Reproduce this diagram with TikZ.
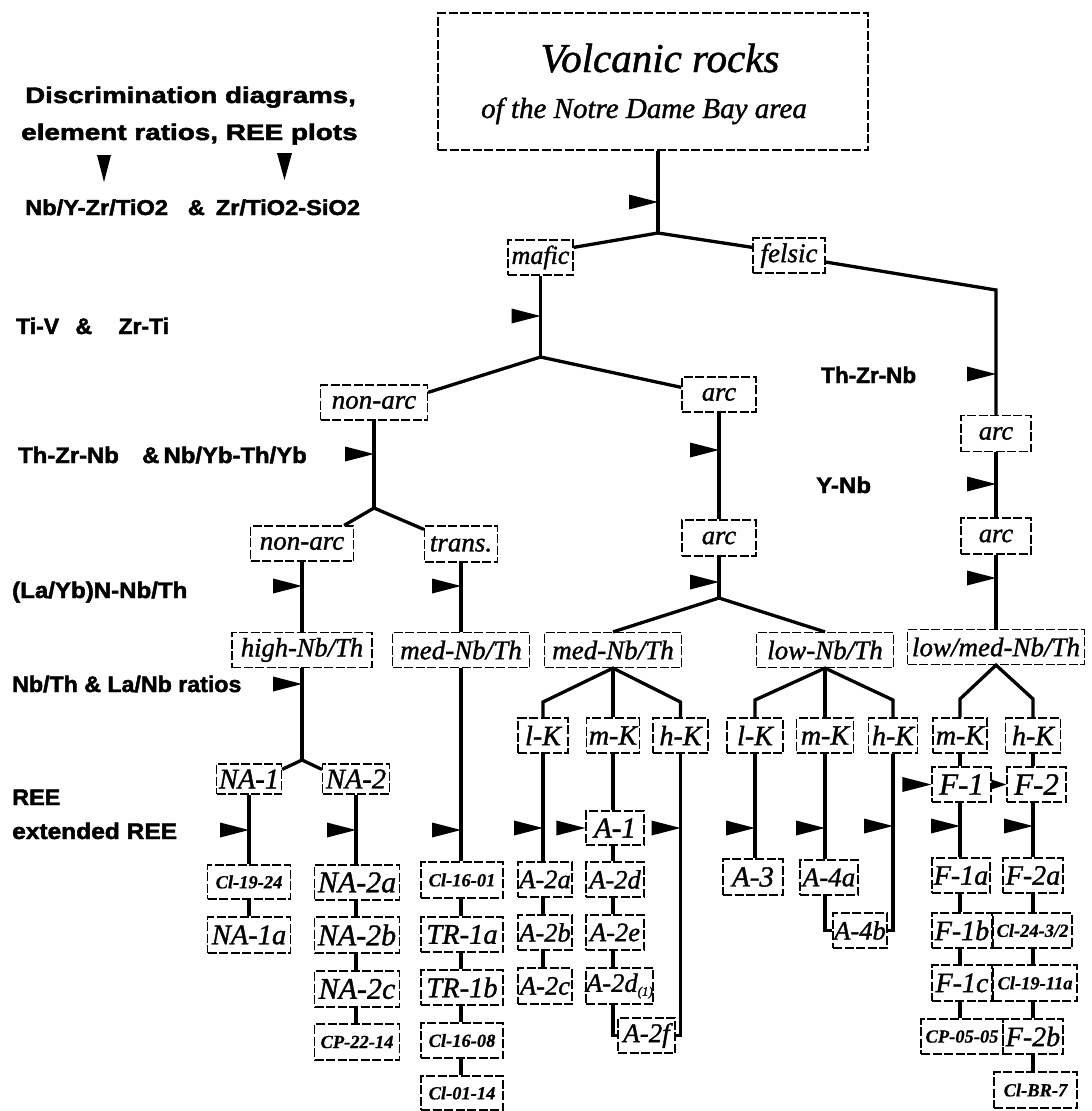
\documentclass[tikz,border=0pt]{standalone}
\usepackage{fontspec}
\setmainfont{Liberation Serif}
\newfontfamily\lsans[FakeBold=2]{Liberation Sans Bold}
\newfontfamily\itf[FakeBold=1.2]{Liberation Serif Italic}
\newfontfamily\itbf[FakeBold=0.6]{Liberation Serif Bold Italic}
\usepackage{graphicx}
\newcommand{\fs}[1]{\fontsize{#1}{#1}\selectfont}
\newcommand{\sx}[2]{\scalebox{#1}[1]{#2}}
\newcommand{\vcon}[3]{\draw[conn] (#1 |- #2.south) -- (#1 |- #3.north);}
\begin{document}
\begin{tikzpicture}[x=1pt,y=-1pt,
  conn/.style={line width=3.3pt, line join=miter},
  box/.style={draw, line width=1.2pt, dash pattern=on 9pt off 2.5pt, inner sep=0pt, font=\itf\fs{27}},
  bx/.style 2 args={box, minimum width=#1pt, minimum height=#2pt},
  smallcode/.style={font=\itbf\fs{18.5}},
  sz/.style={font=\itf\fs{#1}},
  lbl/.style={anchor=base west, inner sep=0pt, font=\lsans\fs{22.5}},
  pennant/.pic={\fill (-29,-7.5) -- (-29,7.5) -- (0,0) -- cycle;},
  smallpennant/.pic={\fill (-15,-5) -- (-15,5) -- (0,0) -- cycle;},
]
\fill[white] (0,0) rectangle (1092,1111);
\useasboundingbox (0,0) rectangle (1092,1111);

% column coordinates
\coordinate (cNa1) at (249,0);
\coordinate (cNa2) at (356,0);
\coordinate (cTr) at (461,0);
\coordinate (cArc) at (719,0);
\coordinate (cF) at (996,0);
\coordinate (cL1) at (543,0);
\coordinate (cM1) at (613,0);
\coordinate (cH1) at (680.5,0);
\coordinate (cL2) at (755,0);
\coordinate (cM2) at (825,0);
\coordinate (cH2) at (893,0);
\coordinate (cF1) at (960,0);
\coordinate (cF2) at (1033,0);

% title
\node[bx={430}{137}] (title) at (653,81.5) {};
\node[anchor=base, inner sep=0pt, font=\itf\fs{41}] (t1) at (660,72) {Volcanic rocks};
\node[anchor=base, inner sep=0pt, font=\itf\fs{29}] (t2) at (644,118) {of the Notre Dame Bay area};

% left labels
\node[lbl] (d1) at (25,103) {\sx{1.23}{Discrimination diagrams,}};
\node[lbl] (d2) at (21,140) {\sx{1.24}{element ratios, REE plots}};
\fill (97,155) -- (111,155) -- (104,182) -- cycle;
\fill (277,153) -- (292,153) -- (284.5,180) -- cycle;
\node[lbl, font=\lsans\fs{21.5}] (d3) at (25,215) {\sx{1.1}{Nb/Y-Zr/TiO2\hspace{18pt}\&\hspace{10pt}Zr/TiO2-SiO2}};
\node[lbl] (d4) at (16,334) {\sx{1.02}{Ti-V\hspace{16pt}\&\hspace{26pt}Zr-Ti}};
\node[lbl] (d5) at (18,463) {\sx{1.06}{Th-Zr-Nb\hspace{22pt}\&\hspace{4pt}Nb/Yb-Th/Yb}};
\node[lbl] (d6) at (12,598) {\sx{1.07}{(La/Yb)N-Nb/Th}};
\node[lbl] (d7) at (12,692) {\sx{1.03}{Nb/Th \& La/Nb ratios}};
\node[lbl] (d8) at (12,805) {\sx{1.04}{REE}};
\node[lbl] (d9) at (12,839) {\sx{1.09}{extended REE}};
\node[lbl] (d10) at (821,383) {\sx{1.0}{Th-Zr-Nb}};
\node[lbl] (d11) at (816,493) {\sx{1.07}{Y-Nb}};

% tree nodes
\node[bx={65}{35}, sz=26] (mafic) at (540.5,257.5) {mafic};
\node[bx={72}{35}] (felsic) at (789,255.5) {felsic};
\node[bx={107}{35}] (nonarc1) at (374,402.5) {non-arc};
\node[bx={74}{35}, sz=26.5] (arc1) at (719,394.5) {arc};
\node[bx={70}{36}, sz=26.5] (arcF1) at (996,433.5) {arc};
\node[bx={70}{36}, sz=26.5] (arcF2) at (996,536) {arc};
\node[bx={103}{35}] (nonarc2) at (302,543.5) {non-arc};
\node[bx={73}{36}] (trans) at (461,544) {trans.};
\node[bx={74}{36}, sz=26.5] (arc2) at (719,538) {arc};
\node[bx={140}{35}, sz=26.5] (highNb) at (302,650) {high-Nb/Th};
\node[bx={137}{35}] (medNbT) at (461,650) {med-Nb/Th};
\node[bx={137}{35}] (medNbA) at (613,650) {med-Nb/Th};
\node[bx={137}{35}] (lowNb) at (825,650) {low-Nb/Th};
\node[bx={177}{35}] (lowmed) at (996,647) {low/med-Nb/Th};

\node[bx={50}{35}, sz=28] (lK1) at (543,735.5) {l-K};
\node[bx={53}{35}, sz=28] (mK1) at (613,735.5) {m-K};
\node[bx={55}{35}, sz=28] (hK1) at (680.5,735.5) {h-K};
\node[bx={56}{35}, sz=28] (lK2) at (755,735.5) {l-K};
\node[bx={57}{35}, sz=28] (mK2) at (825,735.5) {m-K};
\node[bx={49}{35}, sz=28] (hK2) at (893,735.5) {h-K};
\node[bx={54}{35}, sz=28] (mK3) at (960,735.5) {m-K};
\node[bx={55}{35}, sz=28] (hK3) at (1033,735.5) {h-K};

\node[bx={65}{30}, sz=28.5] (na1) at (249,779) {NA-1};
\node[bx={67}{30}, sz=28.5] (na2) at (356,779) {NA-2};
\node[bx={83}{34}, smallcode] (cl1924) at (249,882) {Cl-19-24};
\node[bx={83}{36}, sz=28.5] (na1a) at (249,935) {NA-1a};
\node[bx={85}{35}, sz=30] (na2a) at (357,882.5) {NA-2a};
\node[bx={85}{36}, sz=30] (na2b) at (357,935) {NA-2b};
\node[bx={85}{36}, sz=30] (na2c) at (357,989) {NA-2c};
\node[bx={85}{36}, smallcode] (cp2214) at (357,1042) {CP-22-14};

\node[bx={82}{36}, smallcode] (cl1601) at (462,880) {Cl-16-01};
\node[bx={82}{35}, sz=28.5] (tr1a) at (462,934.5) {TR-1a};
\node[bx={82}{35}, sz=28.5] (tr1b) at (462,987.5) {TR-1b};
\node[bx={82}{35}, smallcode] (cl1608) at (462,1040.5) {Cl-16-08};
\node[bx={82}{34}, smallcode] (cl0114) at (462,1093) {Cl-01-14};

\node[bx={58}{34}, sz=29] (a1) at (615,828) {A-1};
\node[bx={54}{35}, sz=26.5] (a2a) at (545,879.5) {A-2a};
\node[bx={54}{35}, sz=26.5] (a2b) at (545,932.5) {A-2b};
\node[bx={54}{36}, sz=26.5] (a2c) at (545,986) {A-2c};
\node[bx={58}{35}, sz=26.5] (a2d) at (615,879.5) {A-2d};
\node[bx={58}{35}, sz=26.5] (a2e) at (615,932.5) {A-2e};
\node[bx={67}{36}, sz=26.5] (a2d1) at (619.5,986) {A-2d\raisebox{-4pt}{\fs{13}(1)}};
\node[bx={57}{35}, sz=27] (a2f) at (646.5,1035.5) {A-2f};
\node[bx={60}{36}, sz=29] (a3) at (753,877) {A-3};
\node[bx={58}{35}, sz=27] (a4a) at (829,877.5) {A-4a};
\node[bx={54}{35}, sz=26.5] (a4b) at (860,930.5) {A-4b};

\node[bx={59}{35}, sz=31] (f1) at (961.5,784.5) {F-1};
\node[bx={59}{35}, sz=31] (f2) at (1036.5,784.5) {F-2};
\node[bx={58}{35}, sz=28] (f1a) at (961,875.5) {F-1a};
\node[bx={60}{35}, sz=28] (f1b) at (962,930.5) {F-1b};
\node[bx={60}{36}, sz=28] (f1c) at (962,983) {F-1c};
\node[bx={82}{35}, smallcode] (cp0505) at (962,1036.5) {CP-05-05};
\node[bx={60}{35}, sz=28] (f2a) at (1033,875.5) {F-2a};
\node[bx={79}{35}, smallcode] (cl2432) at (1032.5,930.5) {Cl-24-3/2};
\node[bx={84}{36}, smallcode] (cl1911a) at (1035,983) {Cl-19-11a};
\node[bx={60}{35}, sz=28] (f2b) at (1033,1036.5) {F-2b};
\node[bx={83}{36}, smallcode] (clbr7) at (1035.5,1090) {Cl-BR-7};

% connectors
\coordinate (j0) at (658,233);
\draw[conn] (title.south -| j0) -- (j0);
\draw[conn] ([yshift=-8pt]mafic.north east) -- (j0) -- ([yshift=-10pt]felsic.north west);
\coordinate (fc) at (996,290);
\draw[conn] ([yshift=-6.5pt]felsic.east) -- (fc) -- (arcF1.north);
\draw[conn] (arcF1.south) -- (arcF2.north);
\draw[conn] (arcF2.south) -- (arcF2.south |- lowmed.north);

\coordinate (j1) at (540.5,357);
\draw[conn] (mafic.south) -- (j1);
\draw[conn] ([yshift=-8pt]nonarc1.north east) -- (j1) -- ([yshift=-11pt]arc1.north west);
\coordinate (j2) at (374,508);
\draw[conn] (nonarc1.south) -- (j2);
\draw[conn] ([xshift=-10pt]nonarc2.north east) -- (j2) -- ([yshift=-4pt]trans.north west);
\draw[conn] (nonarc2.south) -- (highNb.north);
\draw[conn] (trans.south) -- (medNbT.north);
\coordinate (j3) at (302,760);
\draw[conn] (highNb.south) -- (j3);
\draw[conn] ([yshift=-6pt]na1.north east) -- (j3) -- ([yshift=-6pt]na2.north west);
\draw[conn] (na1.south) -- (cl1924.north);
\draw[conn] (cl1924.south) -- (na1a.north);
\vcon{cNa2}{na2}{na2a}
\vcon{cNa2}{na2a}{na2b}
\vcon{cNa2}{na2b}{na2c}
\vcon{cNa2}{na2c}{cp2214}
\vcon{cTr}{medNbT}{cl1601}
\vcon{cTr}{cl1601}{tr1a}
\vcon{cTr}{tr1a}{tr1b}
\vcon{cTr}{tr1b}{cl1608}
\vcon{cTr}{cl1608}{cl0114}

\vcon{cArc}{arc1}{arc2}
\coordinate (j4) at (719,598);
\draw[conn] (arc2.south) -- (j4);
\draw[conn] (medNbA.north) -- (j4) -- (lowNb.north);

\coordinate (m1) at (543,702);
\coordinate (m3) at (680.5,702);
\draw[conn] (lK1.north) -- (m1) -- (medNbA.south) -- (m3) -- (hK1.north);
\draw[conn] (medNbA.south) -- (mK1.north);
\coordinate (l1) at (755,700);
\coordinate (l3) at (893,700);
\draw[conn] (lK2.north) -- (l1) -- (lowNb.south) -- (l3) -- (hK2.north);
\draw[conn] (lowNb.south) -- (mK2.north);
\coordinate (g1) at (960,699);
\coordinate (g3) at (1033,699);
\draw[conn] (mK3.north) -- (g1) -- (lowmed.south) -- (g3) -- (hK3.north);

\vcon{cL1}{lK1}{a2a}
\vcon{cL1}{a2a}{a2b}
\vcon{cL1}{a2b}{a2c}
\vcon{cM1}{mK1}{a1}
\vcon{cM1}{a1}{a2d}
\vcon{cM1}{a2d}{a2e}
\vcon{cM1}{a2e}{a2d1}
\draw[conn] (cM1 |- a2d1.south) |- (a2f.west);
\draw[conn] (cH1 |- hK1.south) |- (a2f.east);
\vcon{cL2}{lK2}{a3}
\vcon{cM2}{mK2}{a4a}
\draw[conn] (cM2 |- a4a.south) |- (a4b.west);
\draw[conn] (cH2 |- hK2.south) |- (a4b.east);

\vcon{cF1}{mK3}{f1}
\vcon{cF2}{hK3}{f2}
\vcon{cF1}{f1}{f1a}
\vcon{cF1}{f1a}{f1b}
\vcon{cF1}{f1b}{f1c}
\vcon{cF1}{f1c}{cp0505}
\vcon{cF2}{f2}{f2a}
\vcon{cF2}{f2a}{cl2432}
\vcon{cF2}{cl2432}{cl1911a}
\vcon{cF2}{cl1911a}{f2b}
\vcon{cF2}{f2b}{clbr7}

% pennants
\pic at (658,202) {pennant};
\pic at (540.5,316) {pennant};
\pic at (374,454) {pennant};
\pic at (302,586) {pennant};
\pic at (461,586) {pennant};
\pic at (302,684) {pennant};
\pic at (249,830) {pennant};
\pic at (356,830) {pennant};
\pic at (461,830) {pennant};
\pic at (543,828) {pennant};
\pic at (a1.west) {pennant};
\pic at (680.5,828) {pennant};
\pic at (755,828) {pennant};
\pic at (825,828) {pennant};
\pic at (893,826) {pennant};
\pic at (719,450) {pennant};
\pic at (719,582) {pennant};
\pic at (996,374) {pennant};
\pic at (996,484) {pennant};
\pic at (996,578) {pennant};
\pic at (f1.west) {pennant};
\pic at (f2.west) {smallpennant};
\pic at (960,826) {pennant};
\pic at (1033,826) {pennant};
\end{tikzpicture}
\end{document}
